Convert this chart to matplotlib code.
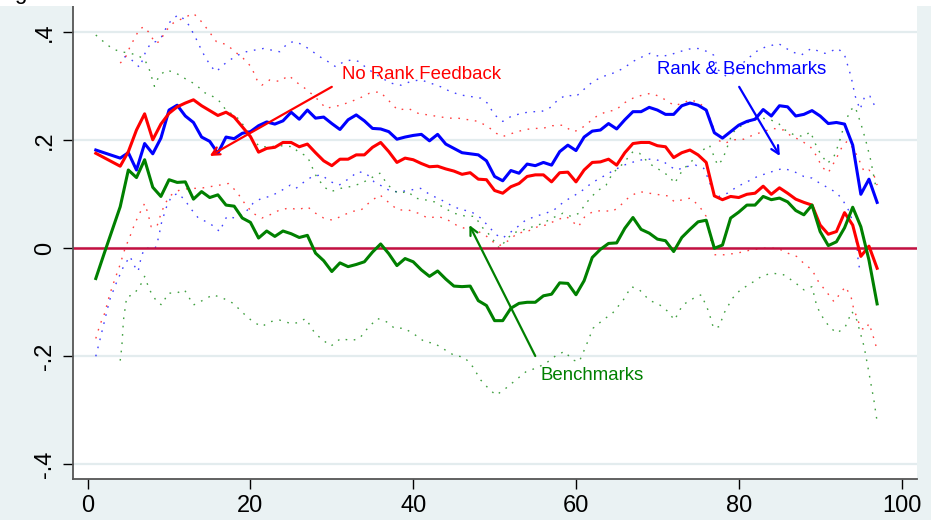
import numpy as np
import matplotlib
matplotlib.use('Agg')
import matplotlib.pyplot as plt
from matplotlib.patches import Rectangle

plt.rcParams['font.family'] = ['Liberation Sans', 'DejaVu Sans']

# period index
x = np.arange(1, 98)

# point estimates (solid lines)
rank_bench = [0.182, 0.177, 0.172, 0.167, 0.177, 0.145, 0.194, 0.175, 0.204, 0.256,
              0.265, 0.245, 0.233, 0.206, 0.198, 0.176, 0.206, 0.203, 0.213, 0.216,
              0.227, 0.234, 0.230, 0.236, 0.252, 0.239, 0.256, 0.241, 0.243, 0.231,
              0.220, 0.238, 0.247, 0.236, 0.222, 0.221, 0.216, 0.202, 0.206, 0.209,
              0.211, 0.199, 0.211, 0.193, 0.185, 0.177, 0.175, 0.173, 0.162, 0.133,
              0.125, 0.144, 0.139, 0.156, 0.153, 0.159, 0.154, 0.179, 0.191, 0.181,
              0.206, 0.217, 0.219, 0.231, 0.221, 0.238, 0.253, 0.253, 0.261, 0.256,
              0.248, 0.248, 0.264, 0.269, 0.265, 0.256, 0.214, 0.204, 0.216, 0.228,
              0.235, 0.239, 0.257, 0.245, 0.264, 0.262, 0.245, 0.248, 0.255, 0.245,
              0.231, 0.233, 0.230, 0.191, 0.100, 0.128, 0.085]

no_rank = [0.176, 0.168, 0.160, 0.152, 0.179, 0.219, 0.249, 0.201, 0.230, 0.250,
           0.262, 0.269, 0.275, 0.264, 0.255, 0.246, 0.252, 0.243, 0.225, 0.207,
           0.178, 0.185, 0.187, 0.196, 0.196, 0.188, 0.193, 0.177, 0.162, 0.153,
           0.165, 0.165, 0.173, 0.173, 0.187, 0.196, 0.179, 0.159, 0.167, 0.164,
           0.157, 0.151, 0.152, 0.147, 0.143, 0.137, 0.140, 0.128, 0.127, 0.107,
           0.102, 0.114, 0.120, 0.133, 0.136, 0.136, 0.123, 0.140, 0.141, 0.123,
           0.145, 0.159, 0.160, 0.165, 0.154, 0.177, 0.194, 0.196, 0.196, 0.190,
           0.188, 0.168, 0.177, 0.182, 0.173, 0.159, 0.097, 0.090, 0.096, 0.094,
           0.100, 0.102, 0.115, 0.100, 0.112, 0.102, 0.091, 0.085, 0.080, 0.043,
           0.026, 0.031, 0.066, 0.043, -0.015, 0.004, -0.037]

bench = [-0.056, -0.011, 0.033, 0.077, 0.145, 0.131, 0.164, 0.113, 0.096, 0.127,
         0.122, 0.123, 0.091, 0.105, 0.094, 0.099, 0.080, 0.078, 0.056, 0.048,
         0.019, 0.032, 0.022, 0.032, 0.027, 0.020, 0.024, -0.009, -0.023, -0.043,
         -0.027, -0.034, -0.030, -0.025, -0.007, 0.008, -0.010, -0.032, -0.019, -0.025,
         -0.040, -0.052, -0.042, -0.057, -0.070, -0.071, -0.070, -0.097, -0.106, -0.134,
         -0.134, -0.111, -0.102, -0.100, -0.100, -0.088, -0.085, -0.064, -0.065, -0.086,
         -0.060, -0.017, -0.002, 0.009, 0.010, 0.037, 0.057, 0.035, 0.028, 0.017,
         0.014, -0.006, 0.020, 0.035, 0.049, 0.052, 0.000, 0.006, 0.056, 0.067,
         0.080, 0.080, 0.096, 0.090, 0.093, 0.086, 0.070, 0.062, 0.080, 0.031,
         0.005, 0.012, 0.038, 0.076, 0.040, -0.022, -0.103]

# confidence bands (dotted lines)
rb_hi_x = [4.5, 5.2, 5.8, 6.4, 7.2, 7.8, 8.4, 9.1, 9.7, 10.3, 11.1, 11.7, 12.4, 13.2, 13.8,
           14.4, 15.2, 15.8, 16.7, 17.5, 18.5, 19.5, 20.5, 21.6, 22.6, 23.6, 24.6, 25.4, 26.4,
           27.4, 28.5, 29.5, 30.5, 31.5, 32.5, 33.3, 34.1, 35.2, 36.2, 37.2, 38.5, 39.7, 40.9,
           42.1, 43.4, 44.6, 45.8, 47.1, 48.3, 49.1, 50, 51, 52, 53.3, 54.5, 55.7, 56.7, 57.8,
           58.8, 60, 61.1, 62.1, 63.3, 64.5, 65.8, 67, 68.2, 69.1, 70.3, 71.5, 72.7, 73.9, 75,
           76, 76.9, 77.5, 78.5, 79.5, 80.5, 82.1, 83.3, 84.9, 86.5, 87.7, 88.9, 90.6, 92.2,
           93, 93.8, 94.3, 94.9, 95.5, 96.1, 96.7]
rb_hi = [0.355, 0.352, 0.343, 0.335, 0.367, 0.380, 0.383, 0.392, 0.410, 0.423, 0.432, 0.426,
         0.414, 0.392, 0.373, 0.355, 0.336, 0.327, 0.340, 0.349, 0.358, 0.364, 0.367, 0.370,
         0.367, 0.364, 0.380, 0.383, 0.377, 0.367, 0.355, 0.346, 0.336, 0.346, 0.349, 0.346,
         0.336, 0.324, 0.315, 0.306, 0.302, 0.309, 0.312, 0.306, 0.299, 0.290, 0.284, 0.281,
         0.278, 0.269, 0.247, 0.235, 0.244, 0.250, 0.253, 0.253, 0.259, 0.275, 0.284, 0.281,
         0.296, 0.309, 0.318, 0.324, 0.333, 0.346, 0.355, 0.361, 0.355, 0.358, 0.364, 0.369,
         0.370, 0.365, 0.358, 0.330, 0.318, 0.325, 0.343, 0.364, 0.373, 0.379, 0.364, 0.358,
         0.370, 0.361, 0.370, 0.358, 0.318, 0.282, 0.257, 0.282, 0.282, 0.264]

rb_lo_x = [1, 1.5, 2.1, 2.7, 3.5, 4.4, 5.2, 5.8, 6.2, 6.6, 7, 7.6, 8.3, 8.7, 9.1, 9.7, 10.3,
           11.1, 11.9, 12.8, 13.6, 14.6, 15.6, 16.2, 17.1, 18.1, 19.3, 20.3, 21.4, 22.4, 23.6,
           24.9, 25.6, 26.6, 27.6, 28.7, 29.9, 30.9, 32.2, 33.2, 34.2, 35.2, 36.3, 37.3, 38.5,
           39.7, 40.9, 42.1, 43.4, 44.6, 45.8, 47.1, 48.3, 49.3, 50.2, 51, 52.6, 53.8, 55, 56.3,
           57.3, 58.5, 59.6, 60.6, 61.6, 62.6, 63.7, 64.7, 65.9, 67.1, 68.4, 69.6, 70.8, 71.6,
           72.4, 73.5, 74.7, 75.7, 76.3, 76.9, 77.6, 78.6, 79.8, 81, 82.3, 83.5, 84.7, 85.5,
           86.8, 88, 89, 90, 91.1, 92.1, 92.9, 93.7, 94.1, 94.5, 94.7, 95]
rb_lo = [-0.200, -0.170, -0.133, -0.096, -0.065, -0.034, -0.015, -0.034, -0.043, -0.015,
         0.000, 0.000, 0.000, 0.019, 0.049, 0.077, 0.096, 0.102, 0.090, 0.071, 0.056, 0.049,
         0.040, 0.031, 0.059, 0.056, 0.065, 0.083, 0.093, 0.096, 0.105, 0.117, 0.111, 0.123,
         0.133, 0.136, 0.123, 0.117, 0.130, 0.142, 0.139, 0.123, 0.114, 0.105, 0.105, 0.108,
         0.111, 0.099, 0.090, 0.080, 0.072, 0.068, 0.056, 0.040, 0.025, 0.019, 0.037, 0.052,
         0.059, 0.065, 0.071, 0.086, 0.096, 0.105, 0.117, 0.127, 0.136, 0.145, 0.154, 0.160,
         0.165, 0.165, 0.160, 0.151, 0.145, 0.151, 0.154, 0.148, 0.127, 0.102, 0.096, 0.102,
         0.114, 0.123, 0.133, 0.139, 0.145, 0.148, 0.142, 0.133, 0.130, 0.120, 0.111, 0.102,
         0.086, 0.065, 0.040, 0.009, -0.028, -0.046]

nr_hi_x = [4, 4.6, 5.2, 5.8, 6.4, 7, 7.6, 8.3, 8.9, 9.5, 10.5, 11.7, 13, 13.8, 14.8, 15.8,
           17.1, 18.1, 19.1, 20.1, 20.8, 21.4, 22.4, 23.6, 24.7, 25.8, 27, 28.3, 29.3, 30.1,
           31.1, 32.4, 33.4, 34.6, 35.9, 36.9, 38.1, 39.4, 40.6, 41.8, 43.1, 44.3, 45.5, 46.8,
           48, 49.2, 50.2, 51, 52.2, 53.5, 54.7, 55.9, 57.1, 58.4, 59.6, 60.4, 61.4, 62.5, 63.7,
           64.9, 65.9, 67, 68.2, 69.2, 70.3, 71.3, 72.1, 73.1, 74.1, 75.2, 76.2, 77.4, 78.2,
           79.4, 80.6, 81.8, 83, 84.2, 85.5, 86.5, 87.5, 88.8, 89.6, 90.2, 91, 91.9, 92.7,
           93.3, 93.9, 94.6, 95.4, 96, 96.6, 97]
nr_hi = [0.343, 0.352, 0.373, 0.390, 0.407, 0.410, 0.398, 0.380, 0.383, 0.401, 0.417, 0.426,
         0.435, 0.423, 0.404, 0.383, 0.377, 0.364, 0.352, 0.336, 0.312, 0.302, 0.312, 0.309,
         0.320, 0.306, 0.293, 0.275, 0.259, 0.262, 0.265, 0.272, 0.278, 0.287, 0.290, 0.275,
         0.256, 0.259, 0.250, 0.247, 0.244, 0.241, 0.241, 0.238, 0.235, 0.225, 0.213, 0.207,
         0.213, 0.219, 0.222, 0.222, 0.227, 0.228, 0.216, 0.219, 0.231, 0.244, 0.253, 0.256,
         0.269, 0.278, 0.284, 0.287, 0.281, 0.272, 0.264, 0.269, 0.275, 0.269, 0.253, 0.201,
         0.194, 0.201, 0.202, 0.210, 0.216, 0.222, 0.219, 0.207, 0.201, 0.188, 0.170, 0.151,
         0.140, 0.164, 0.188, 0.198, 0.188, 0.170, 0.142, 0.145, 0.136, 0.117]

nr_lo_x = [1, 1.5, 2.1, 2.7, 3.3, 3.9, 4.6, 5.2, 5.8, 6.4, 7, 7.4, 7.8, 8.5, 8.9, 9.5, 10.3,
           11.3, 12.6, 13.8, 15, 16.2, 17.3, 18.3, 19.3, 20.3, 21.4, 22.4, 23.6, 24.9, 25.8,
           27, 28, 29, 30.1, 31.1, 32.4, 33.6, 34.7, 35.9, 36.9, 38.1, 39.4, 40.6, 41.8, 43.1,
           44.3, 45.3, 46.3, 47.6, 48.8, 49.8, 50.6, 51.8, 52.8, 54, 55.3, 56.3, 57.6, 58.8,
           59.6, 60.3, 61.1, 62.1, 63.3, 64.5, 65.5, 66.6, 67.8, 69, 70.3, 71.3, 72.1, 73.1,
           74.1, 75.2, 76, 76.9, 78.2, 79.8, 81.5, 83.1, 84.8, 86, 87.1, 88, 89, 89.8, 90.9,
           91.7, 92.5, 93.1, 93.8, 94.1, 95, 95.6, 96, 96.4, 97]
nr_lo = [-0.167, -0.142, -0.120, -0.086, -0.059, -0.034, 0.000, 0.022, 0.046, 0.065, 0.083,
         0.065, 0.040, 0.040, 0.059, 0.083, 0.099, 0.108, 0.111, 0.111, 0.114, 0.117, 0.120,
         0.105, 0.083, 0.065, 0.056, 0.062, 0.071, 0.075, 0.071, 0.077, 0.065, 0.056, 0.052,
         0.059, 0.068, 0.071, 0.086, 0.099, 0.086, 0.071, 0.071, 0.065, 0.056, 0.059, 0.052,
         0.043, 0.037, 0.034, 0.025, 0.012, 0.005, 0.015, 0.028, 0.031, 0.040, 0.043, 0.052,
         0.059, 0.049, 0.040, 0.059, 0.068, 0.070, 0.068, 0.080, 0.096, 0.105, 0.102, 0.099,
         0.097, 0.086, 0.090, 0.093, 0.077, 0.059, -0.012, -0.012, -0.009, -0.003, 0.000,
         0.000, -0.009, -0.015, -0.028, -0.040, -0.062, -0.083, -0.099, -0.083, -0.071,
         -0.090, -0.111, -0.148, -0.151, -0.139, -0.157, -0.188]

bm_hi_x = [1, 2, 3, 4, 5, 6, 7, 7.6, 8.2, 8.8, 9.7, 10.8, 12, 13.2, 14.4, 15.4, 16.2, 17,
           17.9, 18.7, 19.5, 20.3, 21.2, 22.4, 23.6, 25.3, 25.8, 27, 28, 29, 29.9, 31.1, 32.2,
           33.6, 34.8, 35.9, 36.9, 38.1, 39.4, 40.2, 41.4, 42.6, 43.9, 45, 46.3, 47.6, 48.4,
           49.2, 50, 50.6, 51.4, 52.2, 53.5, 54.7, 55.9, 57.1, 58.4, 59.4, 60.4, 61.2, 62.5,
           63.7, 64.5, 65.8, 67, 67.8, 69, 70.3, 71.5, 72.1, 73.1, 74.4, 75.6, 76.4, 77.4, 78,
           78.6, 79.2, 79.8, 80.8, 81.9, 82.9, 83.9, 84.9, 85.7, 86.8, 88, 88.8, 89.4, 90, 90.9,
           91.7, 92.3, 92.9, 93.7, 94.3, 95, 95.6, 96.2, 96.8, 97]
bm_hi = [0.395, 0.382, 0.370, 0.364, 0.362, 0.358, 0.350, 0.330, 0.300, 0.320, 0.330, 0.325,
         0.314, 0.304, 0.288, 0.281, 0.272, 0.256, 0.247, 0.238, 0.219, 0.200, 0.188, 0.188,
         0.190, 0.188, 0.179, 0.170, 0.136, 0.114, 0.105, 0.111, 0.114, 0.120, 0.130, 0.139,
         0.117, 0.102, 0.105, 0.093, 0.090, 0.086, 0.074, 0.065, 0.060, 0.059, 0.040, 0.028,
         0.012, 0.000, 0.015, 0.028, 0.034, 0.040, 0.046, 0.056, 0.065, 0.059, 0.065, 0.083,
         0.105, 0.117, 0.139, 0.157, 0.179, 0.176, 0.157, 0.145, 0.133, 0.120, 0.145, 0.164,
         0.182, 0.191, 0.154, 0.164, 0.188, 0.213, 0.222, 0.231, 0.238, 0.241, 0.238, 0.231,
         0.219, 0.210, 0.207, 0.216, 0.194, 0.176, 0.157, 0.170, 0.194, 0.225, 0.256, 0.262,
         0.231, 0.200, 0.164, 0.117, 0.114]

bm_lo_x = [4, 4.2, 4.4, 4.8, 5.6, 6.4, 7, 7.6, 8.5, 9.1, 9.9, 10.9, 11.9, 13, 14.2, 15.4,
           16.7, 17.9, 19.1, 20.3, 21.4, 22.4, 23.6, 24.9, 25.8, 26.8, 27.9, 28.9, 29.9, 31.1,
           32.4, 33.4, 34.4, 35.6, 36.7, 37.7, 38.9, 40.2, 41.4, 42.6, 43.9, 45, 46.3, 47.3,
           48.3, 49.4, 50.2, 51.4, 52.6, 53.9, 55.1, 56.3, 57.6, 58.6, 59.6, 60.4, 61.2, 62.1,
           63.3, 64.5, 65.8, 66.8, 67.8, 69, 70.3, 71.3, 72.1, 73.1, 74.4, 75.4, 76.3, 76.9,
           77.6, 78.2, 79.2, 80.2, 81.5, 82.9, 84.1, 85.5, 86.8, 88, 89, 89.6, 90.5, 91.3,
           92.1, 93.1, 93.9, 94.5, 95.4, 96, 96.6, 97]
bm_lo = [-0.208, -0.182, -0.133, -0.090, -0.086, -0.071, -0.052, -0.077, -0.099, -0.105,
         -0.083, -0.083, -0.077, -0.105, -0.096, -0.086, -0.093, -0.102, -0.120, -0.136,
         -0.145, -0.136, -0.133, -0.139, -0.138, -0.130, -0.157, -0.170, -0.181, -0.167,
         -0.171, -0.167, -0.148, -0.130, -0.136, -0.148, -0.148, -0.160, -0.173, -0.176,
         -0.188, -0.198, -0.202, -0.219, -0.244, -0.262, -0.272, -0.259, -0.244, -0.228,
         -0.222, -0.213, -0.198, -0.191, -0.207, -0.210, -0.182, -0.148, -0.133, -0.120,
         -0.096, -0.071, -0.077, -0.096, -0.105, -0.117, -0.133, -0.105, -0.093, -0.086,
         -0.117, -0.148, -0.145, -0.120, -0.093, -0.077, -0.065, -0.051, -0.046, -0.049,
         -0.062, -0.077, -0.071, -0.108, -0.133, -0.148, -0.157, -0.145, -0.117, -0.133,
         -0.182, -0.231, -0.281, -0.321]

yticks = [-0.4, -0.2, 0, 0.2, 0.4]
ytick_labels = ['-.4', '-.2', '0', '.2', '.4']
xticks = [0, 20, 40, 60, 80, 100]

# colours
blue = '#0000FF'
red = '#FF0000'
green = '#008000'
bg = '#EAF2F3'

fig = plt.figure(figsize=(9.31, 5.2), dpi=100, facecolor=bg)
# white strip at the very top of the screenshot, with the cut-off glyph from above
fig.patches.append(Rectangle((0, 1 - 6 / 520), 1, 6 / 520, transform=fig.transFigure,
                             facecolor='white', edgecolor='none', zorder=0))
fig.text(20 / 931, 1 + 1.5 / 520, 'g', fontsize=16, ha='center', va='baseline')

ax = fig.add_axes([73 / 931, 41.3 / 520, 844 / 931, 472.7 / 520])
ax.set_facecolor('white')

dots = (0, (1.2, 4.8))
for bx, by, c in [(rb_hi_x, rb_hi, blue), (rb_lo_x, rb_lo, blue),
                  (nr_hi_x, nr_hi, red), (nr_lo_x, nr_lo, red),
                  (bm_hi_x, bm_hi, green), (bm_lo_x, bm_lo, green)]:
    ax.plot(bx, by, color=c, lw=1.0, linestyle=dots, alpha=0.75, zorder=2)

ax.axhline(0, color='#C41040', lw=1.8, zorder=2.5)

ax.plot(x, rank_bench, color=blue, lw=2.2, zorder=3, solid_joinstyle='round')
ax.plot(x, no_rank, color=red, lw=2.2, zorder=3, solid_joinstyle='round')
ax.plot(x, bench, color=green, lw=2.2, zorder=3, solid_joinstyle='round')

# labelled arrows
arrow_kw = dict(arrowstyle='->', mutation_scale=14, shrinkA=0, shrinkB=0)
ax.annotate('', xy=(15.0, 0.171), xytext=(30.0, 0.299),
            arrowprops=dict(color=red, lw=1.6, **arrow_kw), zorder=4)
ax.text(31.2, 0.3215, 'No Rank Feedback', color=red, fontsize=13.4, va='center', ha='left')

ax.annotate('', xy=(85.05, 0.171), xytext=(80.05, 0.299),
            arrowprops=dict(color=blue, lw=1.6, **arrow_kw), zorder=4)
ax.text(69.9, 0.3315, 'Rank & Benchmarks', color=blue, fontsize=13.4, va='center', ha='left')

ax.annotate('', xy=(46.9, 0.043), xytext=(55.0, -0.1995),
            arrowprops=dict(color=green, lw=1.6, **arrow_kw), zorder=4)
ax.text(55.6, -0.2365, 'Benchmarks', color=green, fontsize=13.4, va='center', ha='left')

ax.set_xlim(-1.8, 101.9)
ax.set_ylim(-0.4267, 0.4487)
ax.set_xticks(xticks)
ax.set_yticks(yticks)
ax.set_yticklabels(ytick_labels, rotation=90, va='center')
ax.grid(axis='y', color='#E3ECEE', lw=1.6)
ax.set_axisbelow(True)

for side in ['top', 'right']:
    ax.spines[side].set_visible(False)
for side in ['left', 'bottom']:
    ax.spines[side].set_color('#555555')
    ax.spines[side].set_linewidth(1.3)
ax.tick_params(axis='both', direction='out', length=7, width=1, color='black',
               labelsize=17, pad=5)

fig.savefig('out.png', dpi=100, facecolor=fig.get_facecolor())
